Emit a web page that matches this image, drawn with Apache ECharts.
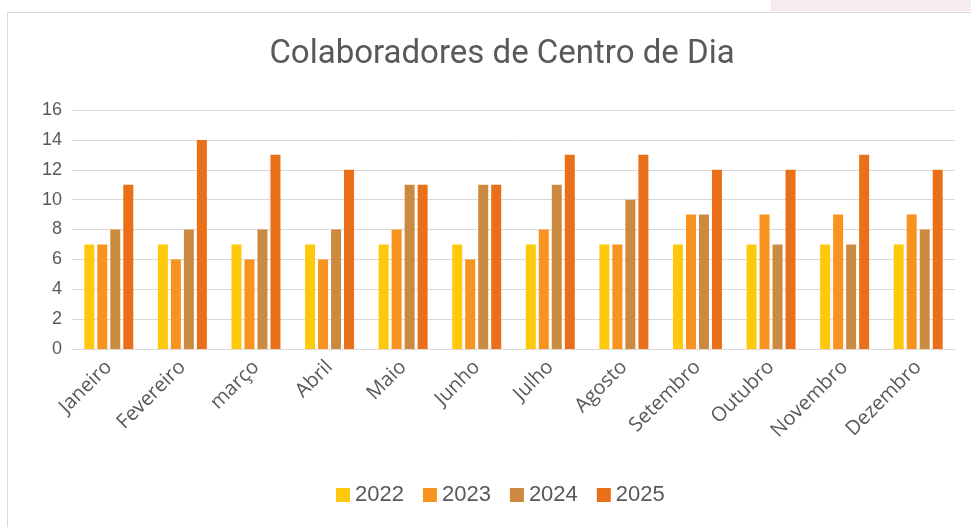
<!DOCTYPE html>
<html>
<head>
<meta charset="utf-8">
<script src="https://cdn.jsdelivr.net/npm/echarts@6/dist/echarts.min.js"></script>
<style>
  html, body { margin: 0; padding: 0; background: #fff; }
  #frame { position: absolute; left: 7px; top: 12px; width: 980px; height: 530px; border: 1px solid #d9d9d9; box-sizing: border-box; }
  #tab { position: absolute; left: 771px; top: 0; width: 200px; height: 11px; background: #f5ebf0; }
  #main { position: absolute; left: 0; top: 0; width: 971px; height: 527px; }
</style>
</head>
<body>
<div id="tab"></div>
<div id="frame"></div>
<div id="main"></div>
<script>
var months = ['Janeiro', 'Fevereiro', 'março', 'Abril', 'Maio', 'Junho', 'Julho', 'Agosto', 'Setembro', 'Outubro', 'Novembro', 'Dezembro'];
var years = ['2022', '2023', '2024', '2025'];
var v2022 = [7, 7, 7, 7, 7, 7, 7, 7, 7, 7, 7, 7];
var v2023 = [7, 6, 6, 6, 8, 6, 8, 7, 9, 9, 9, 9];
var v2024 = [8, 8, 8, 8, 11, 11, 11, 10, 9, 7, 7, 8];
var v2025 = [11, 14, 13, 12, 11, 11, 13, 13, 12, 12, 13, 12];
var colors = ['#ffc90b', '#f7931e', '#cb8a40', '#e97018'];

var myChart = echarts.init(document.getElementById('main'));

// uma série por ano
var values = [v2022, v2023, v2024, v2025];
var series = years.map(function (y, i) {
    return {
        name: y,
        type: 'bar',
        data: values[i],
        barWidth: 10,
        barGap: '30%',
        itemStyle: { color: colors[i] }
    };
});

myChart.setOption({
    color: colors,
    title: {
        text: 'Colaboradores de Centro de Dia',
        left: 497,
        textAlign: 'center',
        top: 33,
        textStyle: {
            fontFamily: "'Roboto', sans-serif",
            fontSize: 33,
            fontWeight: 'normal',
            color: '#595959'
        }
    },
    legend: {
        data: years,
        bottom: 16,
        left: 331,
        icon: 'rect',
        itemWidth: 14,
        itemHeight: 14,
        itemGap: 19,
        textStyle: { fontSize: 22, color: '#595959', fontFamily: "'Liberation Sans', Arial, sans-serif" }
    },
    grid: { left: 72, right: 16, top: 110, bottom: 178 },
    xAxis: {
        type: 'category',
        data: months,
        axisTick: { show: false },
        axisLine: { lineStyle: { color: '#d9d9d9', width: 1 } },
        axisLabel: {
            rotate: 45,
            margin: 15,
            fontSize: 20,
            color: '#595959',
            fontFamily: "'Open Sans', sans-serif"
        }
    },
    yAxis: {
        type: 'value',
        min: 0,
        max: 16,
        interval: 2,
        axisLine: { show: false },
        axisTick: { show: false },
        splitLine: { lineStyle: { color: '#d9d9d9', width: 1 } },
        axisLabel: {
            margin: 10,
            fontSize: 18,
            color: '#595959',
            fontFamily: "'Liberation Sans', Arial, sans-serif"
        }
    },
    series: series
});
</script>
</body>
</html>
